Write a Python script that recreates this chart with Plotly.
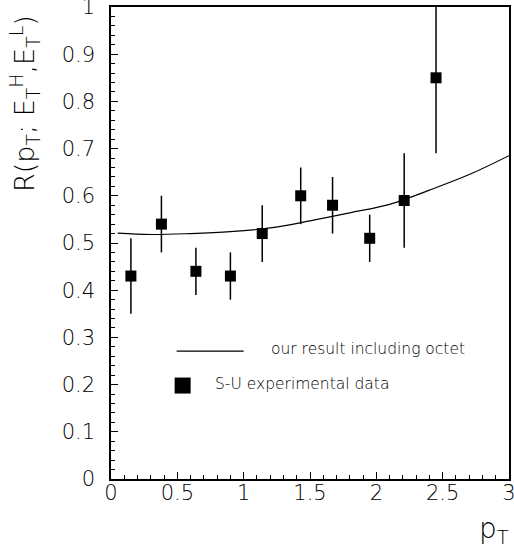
import plotly.graph_objects as go

# Experimental data (S-U)
pt = [0.15, 0.38, 0.64, 0.90, 1.14, 1.43, 1.67, 1.95, 2.21, 2.45]
r_val = [0.43, 0.54, 0.44, 0.43, 0.52, 0.60, 0.58, 0.51, 0.59, 0.85]
err_hi = [0.51, 0.60, 0.49, 0.48, 0.58, 0.66, 0.64, 0.56, 0.69, 1.00]
err_lo = [0.35, 0.48, 0.39, 0.38, 0.46, 0.54, 0.52, 0.46, 0.49, 0.69]

# Theory curve: our result including octet
curve_x = [0.05, 0.3, 0.6, 0.9, 1.2, 1.5, 1.8, 2.1, 2.4, 2.7, 3.0]
curve_y = [0.521, 0.518, 0.520, 0.524, 0.532, 0.547, 0.564, 0.582, 0.612, 0.645, 0.685]

x_ticks = [0, 0.5, 1, 1.5, 2, 2.5, 3]
x_ticklabels = ["0", "0.5", "1", "1.5", "2", "2.5", "3"]
y_ticks = [0, 0.1, 0.2, 0.3, 0.4, 0.5, 0.6, 0.7, 0.8, 0.9, 1]
y_ticklabels = ["0", "0.1", "0.2", "0.3", "0.4", "0.5", "0.6", "0.7", "0.8", "0.9", "1"]

legend_line_text = "our result including octet"
legend_data_text = "S-U experimental data"

FONT = "DejaVu Sans"
L, R, T, B = 111, 509, 7, 479  # plot area in pixels
W, H = 514, 550


def px_x(p):
    return (p - L) / (R - L)


def px_y(p):
    return (B - p) / (B - T)


fig = go.Figure()
fig.add_trace(go.Scatter(
    x=curve_x, y=curve_y, mode="lines", line=dict(color="black", width=1.2, shape="spline"),
    showlegend=False, hoverinfo="skip"))
fig.add_trace(go.Scatter(
    x=pt, y=r_val, mode="markers",
    marker=dict(symbol="square", size=11, color="black"),
    error_y=dict(type="data", symmetric=False,
                 array=[h - v for h, v in zip(err_hi, r_val)],
                 arrayminus=[v - l for v, l in zip(r_val, err_lo)],
                 width=0, thickness=1.5, color="black"),
    showlegend=False))

# Legend drawn inside the plot
fig.add_shape(type="line", xref="x", yref="y", x0=0.495, x1=1.0, y0=0.271, y1=0.271,
              line=dict(color="black", width=1.2))
fig.add_trace(go.Scatter(x=[0.54], y=[0.198], mode="markers",
                         marker=dict(symbol="square", size=16, color="black"),
                         showlegend=False, hoverinfo="skip"))
fig.add_annotation(x=1.19, y=0.276, xref="x", yref="y", text=legend_line_text, showarrow=False,
                   xanchor="left", yanchor="middle",
                   font=dict(family=FONT, size=15.5, color="black", weight=200))
fig.add_annotation(x=0.77, y=0.202, xref="x", yref="y", text=legend_data_text, showarrow=False,
                   xanchor="left", yanchor="middle",
                   font=dict(family=FONT, size=15.5, color="black", weight=200))

# Axis titles
fig.add_annotation(x=px_x(494), y=px_y(530), xref="paper", yref="paper", text="p<sub>T</sub>",
                   showarrow=False, xanchor="center", yanchor="middle",
                   font=dict(family=FONT, size=28, color="black", weight=200))
fig.add_annotation(x=px_x(24), y=px_y(104), xref="paper", yref="paper",
                   text="R(p<sub>T</sub>; E<sub>T</sub><sup>H</sup>,E<sub>T</sub><sup>L</sup>)",
                   showarrow=False, textangle=-90, xanchor="center", yanchor="middle",
                   font=dict(family=FONT, size=27, color="black", weight=200))

fig.update_layout(
    width=W, height=H,
    margin=dict(l=L, r=W - R, t=T, b=H - B),
    paper_bgcolor="white", plot_bgcolor="white",
    font=dict(family=FONT, size=20, color="black"),
    showlegend=False,
)

fig.update_xaxes(
    range=[0, 3], tickvals=x_ticks, ticktext=x_ticklabels,
    ticks="inside", ticklen=7, tickwidth=1, tickcolor="black",
    minor=dict(dtick=0.1, ticks="inside", ticklen=4, tickcolor="black", tickwidth=1),
    showline=True, linecolor="black", linewidth=1.5, mirror=True,
    showgrid=False, zeroline=False, automargin=False,
    ticklabeloverflow="allow", ticklabelstandoff=-6,
    tickfont=dict(family=FONT, size=21, color="black", weight=200),
)
fig.update_yaxes(
    range=[0, 1], tickvals=y_ticks, ticktext=y_ticklabels,
    ticks="inside", ticklen=7, tickwidth=1, tickcolor="black",
    minor=dict(dtick=0.02, ticks="inside", ticklen=4, tickcolor="black", tickwidth=1),
    showline=True, linecolor="black", linewidth=1.5, mirror=True,
    showgrid=False, zeroline=False, automargin=False,
    ticklabeloverflow="allow", ticklabelstandoff=10,
    tickfont=dict(family=FONT, size=21, color="black", weight=200),
)

fig.write_html("out.html", config={"displayModeBar": False},
               post_script="document.body.style.margin='0px';")
